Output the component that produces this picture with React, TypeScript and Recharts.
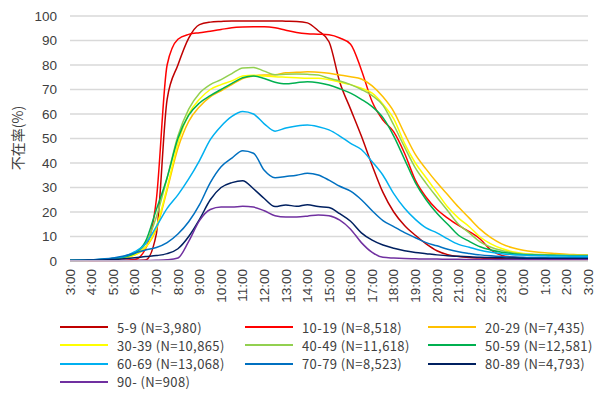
import { CartesianGrid, Line, LineChart, XAxis, YAxis } from "recharts"

// 30-minute time slots, 3:00 to 3:00 next day
const times = [
  "3:00", "3:30", "4:00", "4:30", "5:00", "5:30", "6:00", "6:30", "7:00", "7:30",
  "8:00", "8:30", "9:00", "9:30", "10:00", "10:30", "11:00", "11:30", "12:00", "12:30",
  "13:00", "13:30", "14:00", "14:30", "15:00", "15:30", "16:00", "16:30", "17:00", "17:30",
  "18:00", "18:30", "19:00", "19:30", "20:00", "20:30", "21:00", "21:30", "22:00", "22:30",
  "23:00", "23:30", "0:00", "0:30", "1:00", "1:30", "2:00", "2:30", "3:00",
]

const yTicks = [0, 10, 20, 30, 40, 50, 60, 70, 80, 90, 100]

// 不在率 (%) by age group
const age5_9 = [
  0.1, 0.1, 0.1, 0.1, 0.1, 0.1, 0.2, 0.4, 11, 66,
  80, 91, 96.5, 97.5, 97.8, 98, 98, 98, 98, 98,
  97.9, 97.8, 97.2, 94, 89.5, 73, 62, 51, 39, 28,
  20, 14.5, 10.5, 7, 4.2, 2.6, 1.8, 1.4, 1.2, 1.0,
  0.9, 0.8, 0.7, 0.6, 0.6, 0.5, 0.5, 0.5, 0.5,
]
const age10_19 = [
  0.1, 0.1, 0.1, 0.2, 0.2, 0.3, 0.6, 5, 25, 80,
  90.5, 92.5, 93.2, 93.8, 94.5, 95.2, 95.5, 95.6, 95.6, 95.2,
  94.2, 93.3, 92.8, 92.6, 92.3, 91, 88.5, 78, 65, 57.5,
  52.7, 44, 33, 26, 21, 17.5, 14.5, 12, 9, 4.5,
  2.3, 1.6, 1.3, 1.2, 1.1, 1.0, 1.0, 1.0, 1.0,
]
const age20_29 = [
  0.2, 0.2, 0.3, 0.5, 0.8, 1.3, 2.5, 5.5, 13, 29,
  46, 57, 63, 67, 69.5, 72, 74.5, 75.5, 75.9, 76,
  76.8, 77, 77.2, 77, 76.6, 75.9, 75.2, 74.3, 71.5, 67,
  61, 52, 43.5, 37.5, 32, 27, 22, 17.5, 13, 9.5,
  7, 5.4, 4.4, 3.8, 3.4, 3.1, 2.8, 2.6, 2.4,
]
const age30_39 = [
  0.2, 0.2, 0.3, 0.5, 0.8, 1.3, 2.5, 5.5, 14, 30,
  48, 60, 66, 70, 72, 73.5, 75.5, 75.8, 75.5, 75.2,
  75, 74.8, 74.6, 74.6, 74, 73, 72, 70.5, 68.5, 64,
  58, 48, 40, 34, 28, 22, 17.5, 14, 9.8, 7,
  5.1, 3.8, 3.1, 2.7, 2.5, 2.4, 2.3, 2.2, 2.1,
]
const age40_49 = [
  0.2, 0.3, 0.4, 0.6, 1.0, 1.6, 3, 7, 18, 34,
  51, 62, 68.5, 72, 74, 76.5, 78.8, 79, 77.5, 76,
  76.2, 76.3, 76.2, 75.9, 74.6, 73.5, 72, 70, 67.5, 63.5,
  55.5, 46.5, 38, 31.7, 26, 20.5, 15, 11.5, 7.8, 5.6,
  4.3, 3.4, 2.9, 2.7, 2.6, 2.5, 2.4, 2.3, 2.3,
]
const age50_59 = [
  0.2, 0.3, 0.4, 0.6, 1.0, 1.6, 3.2, 8, 21, 34,
  50, 59.5, 64.5, 67.5, 70, 72.5, 74.8, 75.5, 74.5, 73,
  72.3, 72.8, 73.2, 72.8, 71.8, 70.3, 68.5, 66, 63, 58.5,
  51, 41.5, 32, 25, 19.5, 15, 10.5, 8, 5.8, 4.5,
  3.6, 3.0, 2.6, 2.4, 2.3, 2.2, 2.1, 2.0, 2.0,
]
const age60_69 = [
  0.3, 0.3, 0.5, 0.7, 1.1, 1.8, 3.8, 7, 14, 21.5,
  27, 33.5, 41, 49.5, 55, 59, 61, 60, 56, 53,
  54.3, 55.1, 55.5, 54.8, 53.5, 51, 48, 45.5, 40.5, 35,
  27.5, 21.5, 17, 13.5, 11.5, 9, 6.8, 5.6, 4.4, 3.6,
  3.0, 2.6, 2.4, 2.2, 2.1, 2.0, 2.0, 1.9, 1.9,
]
const age70_79 = [
  0.3, 0.4, 0.5, 0.8, 1.2, 2.0, 3.2, 4.5, 5.5, 7.5,
  11, 16, 23, 32, 38.5, 42, 45, 44, 37, 34,
  34.5, 35, 35.8, 35.1, 33, 30.5, 28.5, 25, 20.5, 16.5,
  14, 11.6, 9.5, 7.5, 6.2, 4.8, 3.8, 3.1, 2.5, 2.1,
  1.8, 1.6, 1.5, 1.4, 1.4, 1.3, 1.3, 1.3, 1.3,
]
const age80_89 = [
  0.2, 0.2, 0.3, 0.4, 0.6, 0.9, 1.3, 1.8, 2.2, 3,
  5, 10, 17, 25, 30, 32, 32.8, 29.5, 25.5, 22.2,
  22.9, 22.3, 23, 22.2, 21.8, 19.3, 16.2, 11.5, 8.5, 6.5,
  5.2, 4.2, 3.5, 3.0, 2.5, 2.1, 1.9, 1.7, 1.5, 1.4,
  1.3, 1.2, 1.1, 1.0, 1.0, 0.9, 0.9, 0.9, 0.9,
]
const age90 = [
  0.1, 0.1, 0.1, 0.1, 0.1, 0.2, 0.2, 0.2, 0.3, 0.5,
  1.2, 8, 16.5, 21, 22, 22, 22.3, 22, 20.5, 18.5,
  18, 18, 18.3, 18.8, 18.5, 16.7, 13, 7.5, 3.5, 1.5,
  1.2, 1.0, 0.9, 0.8, 0.8, 0.7, 0.7, 0.6, 0.6, 0.6,
  0.5, 0.5, 0.5, 0.5, 0.5, 0.5, 0.5, 0.5, 0.5,
]

const series = [
  { key: "a5", name: "5-9 (N=3,980)", color: "#c00000", values: age5_9 },
  { key: "a10", name: "10-19 (N=8,518)", color: "#ff0000", values: age10_19 },
  { key: "a20", name: "20-29 (N=7,435)", color: "#ffc000", values: age20_29 },
  { key: "a30", name: "30-39 (N=10,865)", color: "#ffff00", values: age30_39 },
  { key: "a40", name: "40-49 (N=11,618)", color: "#92d050", values: age40_49 },
  { key: "a50", name: "50-59 (N=12,581)", color: "#00b050", values: age50_59 },
  { key: "a60", name: "60-69 (N=13,068)", color: "#00b0f0", values: age60_69 },
  { key: "a70", name: "70-79 (N=8,523)", color: "#0070c0", values: age70_79 },
  { key: "a80", name: "80-89 (N=4,793)", color: "#002060", values: age80_89 },
  { key: "a90", name: "90- (N=908)", color: "#7030a0", values: age90 },
]

const data = times.map((t, i) => {
  const row: Record<string, string | number> = { time: t }
  series.forEach((s) => {
    row[s.key] = s.values[i]
  })
  return row
})

const tickFont = "'Liberation Sans', Arial, sans-serif"
const jpFont = "'Noto Sans CJK JP', 'Noto Sans', sans-serif"

function TimeTick({ x, y, payload }: any) {
  return (
    <g transform={`translate(${x},${y})`}>
      <text
        transform="rotate(-90)"
        x={0}
        y={0}
        dy="0.35em"
        textAnchor="end"
        fontSize={13.5}
        fontFamily={tickFont}
        fill="#404040"
      >
        {payload.value}
      </text>
    </g>
  )
}

function Legend10() {
  const cols = [60, 245, 428]
  return (
    <div style={{ position: "absolute", left: 0, top: 0, width: 598, height: 396, pointerEvents: "none" }}>
      {series.map((s, i) => {
        const left = cols[i % 3]
        const top = 327 + Math.floor(i / 3) * 18.3
        return (
          <div key={s.key} style={{ position: "absolute", left, top: top - 10, height: 20, display: "flex", alignItems: "center" }}>
            <div style={{ width: 48, height: 2, background: s.color }} />
            <span
              style={{
                marginLeft: 9,
                fontFamily: jpFont,
                fontSize: 13,
                letterSpacing: 0.4,
                color: "#404040",
                whiteSpace: "nowrap",
              }}
            >
              {s.name}
            </span>
          </div>
        )
      })}
    </div>
  )
}

export default function App() {
  return (
    <div style={{ position: "absolute", left: 0, top: 0, width: 598, height: 396, background: "#fff" }}>
      <LineChart width={598} height={320} data={data} margin={{ top: 16, right: 10, left: 0, bottom: 0 }}>
        <CartesianGrid vertical={false} stroke="#d9d9d9" strokeWidth={1.5} />
        <XAxis
          dataKey="time"
          interval={1}
          height={59}
          tick={<TimeTick />}
          tickLine={false}
          axisLine={{ stroke: "#d9d9d9", strokeWidth: 1.5 }}
        />
        <YAxis
          width={70}
          domain={[0, 100]}
          ticks={yTicks}
          tickLine={false}
          axisLine={false}
          tickMargin={7}
          tick={{ fontSize: 13.5, fontFamily: tickFont, fill: "#404040" }}
          label={{
            content: () => (
              <text
                x={17}
                y={138}
                transform="rotate(-90 17 138)"
                textAnchor="middle"
                dominantBaseline="central"
                fontSize={14}
                fontFamily={jpFont}
                fill="#404040"
              >
                不在率(%)
              </text>
            ),
          }}
        />
        {series.map((s) => (
          <Line
            key={s.key}
            type="monotone"
            dataKey={s.key}
            name={s.name}
            stroke={s.color}
            strokeWidth={1.5}
            dot={false}
            isAnimationActive={false}
          />
        ))}
      </LineChart>
      <Legend10 />
    </div>
  )
}
